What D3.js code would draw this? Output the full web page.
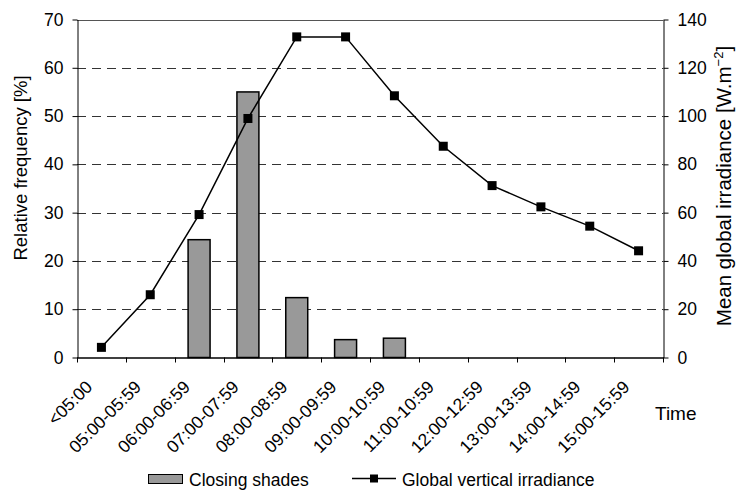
<!DOCTYPE html>
<html>
<head>
<meta charset="utf-8">
<script src="https://cdn.jsdelivr.net/npm/d3@7"></script>
<style>
  body { margin: 0; background: #fff; }
  svg text { font-family: "Liberation Sans", Arial, sans-serif; fill: #000; }
</style>
</head>
<body>
<div id="chart"></div>
<script>
// data
const categories = ['<05:00', '05:00-05:59', '06:00-06:59', '07:00-07:59', '08:00-08:59', '09:00-09:59',
                    '10:00-10:59', '11:00-10:59', '12:00-12:59', '13:00-13:59', '14:00-14:59', '15:00-15:59'];
const closingShades = [0, 0, 24.4, 55, 12.4, 3.7, 4.0, 0, 0, 0, 0, 0];
const irradiance = [4.2, 26, 59.2, 99, 132.8, 132.8, 108.4, 87.5, 71.2, 62.4, 54.4, 44.2];
const leftTicks = [0, 10, 20, 30, 40, 50, 60, 70];
const rightTicks = [0, 20, 40, 60, 80, 100, 120, 140];

const W = 737, H = 493;
const pL = 77, pR = 663, pT = 19.5, pB = 357.5;

const svg = d3.select('#chart').append('svg')
  .attr('width', W).attr('height', H);

const x = d3.scaleBand().domain(categories).range([pL, pR]).padding(0);
const yL = d3.scaleLinear().domain([0, 70]).range([pB, pT]);
const yR = d3.scaleLinear().domain([0, 140]).range([pB, pT]);

// gridlines
svg.append('g')
  .selectAll('line')
  .data(leftTicks.filter(d => d > 0 && d < 70))
  .enter().append('line')
  .attr('x1', pL).attr('x2', pR)
  .attr('y1', d => Math.round(yL(d)) + 0.5).attr('y2', d => Math.round(yL(d)) + 0.5)
  .attr('stroke', '#333').attr('stroke-dasharray', '9,6');
svg.append('line')
  .attr('x1', pL).attr('x2', pR)
  .attr('y1', Math.round(yL(70)) + 0.5).attr('y2', Math.round(yL(70)) + 0.5)
  .attr('stroke', '#555');

// bars
const bw = x.bandwidth() * 0.45;
svg.append('g')
  .selectAll('rect')
  .data(categories.map((c, i) => ({ c, v: closingShades[i] })).filter(d => d.v > 0))
  .enter().append('rect')
  .attr('x', d => x(d.c) + x.bandwidth() / 2 - bw / 2)
  .attr('y', d => yL(d.v))
  .attr('width', bw)
  .attr('height', d => pB - yL(d.v))
  .attr('fill', '#999')
  .attr('stroke', '#000')
  .attr('stroke-width', 1.5);

// axes
const axL = svg.append('g')
  .attr('transform', `translate(${pL + 0.5},0)`)
  .call(d3.axisLeft(yL).tickValues(leftTicks).tickSize(5).tickPadding(9).tickSizeOuter(0));
const axR = svg.append('g')
  .attr('transform', `translate(${pR + 0.5},0)`)
  .call(d3.axisRight(yR).tickValues(rightTicks).tickSize(5).tickPadding(9).tickSizeOuter(0));
[axL, axR].forEach(g => {
  g.selectAll('text').style('font-size', '17.5px');
  g.select('.domain').attr('stroke', '#000');
});

// x axis: ticks at category boundaries
const xg = svg.append('g');
xg.append('line')
  .attr('x1', pL).attr('x2', pR + 1)
  .attr('y1', pB + 0.5).attr('y2', pB + 0.5)
  .attr('stroke', '#000').attr('stroke-width', 1.5);
const bounds = categories.map(c => x(c)).concat([pR]);
xg.selectAll('line.tk')
  .data(bounds)
  .enter().append('line')
  .attr('class', 'tk')
  .attr('x1', d => Math.round(d) + 0.5).attr('x2', d => Math.round(d) + 0.5)
  .attr('y1', pB).attr('y2', pB + 5)
  .attr('stroke', '#000');
xg.selectAll('text')
  .data(categories)
  .enter().append('text')
  .attr('transform', d => `translate(${x(d) + x.bandwidth() / 2 - 8},388) rotate(-45)`)
  .attr('text-anchor', 'end')
  .style('font-size', '17.5px')
  .text(d => d);

// line + markers
const line = d3.line()
  .x((d, i) => x(categories[i]) + x.bandwidth() / 2)
  .y(d => yR(d));
svg.append('path')
  .datum(irradiance)
  .attr('d', line)
  .attr('fill', 'none')
  .attr('stroke', '#000')
  .attr('stroke-width', 1.5);
svg.append('g')
  .selectAll('rect')
  .data(irradiance)
  .enter().append('rect')
  .attr('x', (d, i) => x(categories[i]) + x.bandwidth() / 2 - 4.5)
  .attr('y', d => yR(d) - 4.5)
  .attr('width', 9).attr('height', 9)
  .attr('fill', '#000');

// axis titles
svg.append('text')
  .attr('transform', `translate(27,${168}) rotate(-90)`)
  .attr('text-anchor', 'middle')
  .style('font-size', '18.5px')
  .text('Relative frequency [%]');
const rt = svg.append('text')
  .attr('transform', `translate(731,${186}) rotate(-90)`)
  .attr('text-anchor', 'middle')
  .style('font-size', '20.5px');
rt.append('tspan').text('Mean global irradiance [W.m');
rt.append('tspan').attr('dy', -8).style('font-size', '13px').text('\u22122');
rt.append('tspan').attr('dy', 8).text(']');
svg.append('text')
  .attr('x', 655).attr('y', 420)
  .style('font-size', '19px')
  .text('Time');

// legend
const lg = svg.append('g');
lg.append('rect')
  .attr('x', 148.5).attr('y', 474.5).attr('width', 34).attr('height', 9)
  .attr('fill', '#999').attr('stroke', '#000');
lg.append('text').attr('x', 189).attr('y', 485.5).style('font-size', '17.5px').text('Closing shades');
lg.append('line')
  .attr('x1', 352).attr('x2', 396).attr('y1', 478.5).attr('y2', 478.5)
  .attr('stroke', '#000').attr('stroke-width', 1.5);
lg.append('rect')
  .attr('x', 370).attr('y', 474.5).attr('width', 8).attr('height', 8)
  .attr('fill', '#000');
lg.append('text').attr('x', 402).attr('y', 485.5).style('font-size', '17.5px').text('Global vertical irradiance');
</script>
</body>
</html>
